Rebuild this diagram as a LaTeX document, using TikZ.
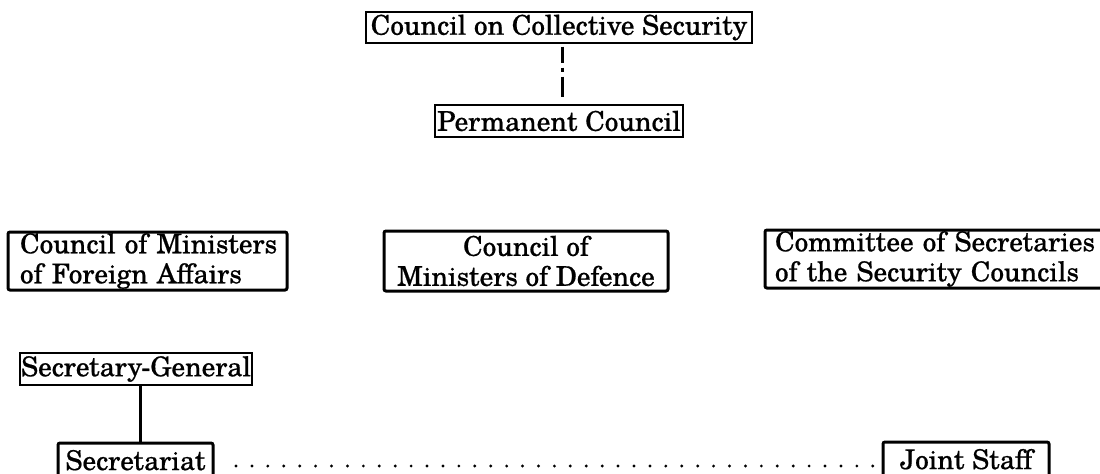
\documentclass[tikz,border=0pt]{standalone}
\usepackage{fontspec}
\setmainfont{TeX Gyre Schola}[FakeBold=0.6]
\begin{document}
\begin{tikzpicture}[x=0.5pt,y=-0.5pt,
  boxfont/.style={font=\fontsize{13.6}{15}\selectfont},
  thinbox/.style={draw,line width=0.6pt,inner sep=0pt,boxfont},
  thickbox/.style={draw,line width=1.5pt,rounded corners=1pt,inner ysep=0pt,inner xsep=0pt,boxfont},
]
\useasboundingbox (0,0) rectangle (1100,473);
\node[thinbox,minimum width=386*0.5pt,minimum height=31*0.5pt] (ccs) at (559,27.5) {Council on Collective Security};
\node[thinbox,minimum width=248*0.5pt,minimum height=32*0.5pt] (pc) at (559,121) {Permanent Council};
\node[thickbox,inner xsep=0pt,text width=139.5pt,minimum height=58*0.5pt,align=left] (cmfa) at (147.5,261) {\hspace*{6pt}Council of Ministers\\\hspace*{6pt}of Foreign Affairs};
\node[thickbox,minimum width=284*0.5pt,minimum height=60*0.5pt,align=center] (cmd) at (526,261) {Council of\\Ministers of Defence};
\node[thickbox,inner xsep=0pt,text width=172.5pt,minimum height=58*0.5pt,align=left] (cssc) at (937.5,259) {\hspace*{5pt}Committee of Secretaries\\\hspace*{5pt}of the Security Councils};
\node[thinbox,minimum width=232*0.5pt,minimum height=32*0.5pt] (sg) at (136,369) {Secretary-General};
\node[thickbox,minimum width=155*0.5pt,minimum height=40*0.5pt,text depth=3pt] (sec) at (135.5,463) {Secretariat};
\node[thickbox,minimum width=166*0.5pt,minimum height=40*0.5pt,text depth=3pt] (js) at (966,462) {Joint Staff};
\draw[line width=1.5pt,dash pattern=on 8pt off 2.5pt on 2pt off 2.5pt on 10pt off 20pt,shorten <=1.5pt] ([xshift=1.5pt]ccs.south) -- ([xshift=1.5pt]ccs.south |- pc.north);
\draw[line width=1.5pt] ([xshift=2pt]sg.south) -- ([xshift=2pt]sg.south |- sec.north);
\coordinate (dl) at (236,466);
\coordinate (dr) at (873,466);
\draw[line width=1.6pt,line cap=round,dash pattern=on 0pt off 7.96pt] (dl) -- (dr);
\end{tikzpicture}
\end{document}
